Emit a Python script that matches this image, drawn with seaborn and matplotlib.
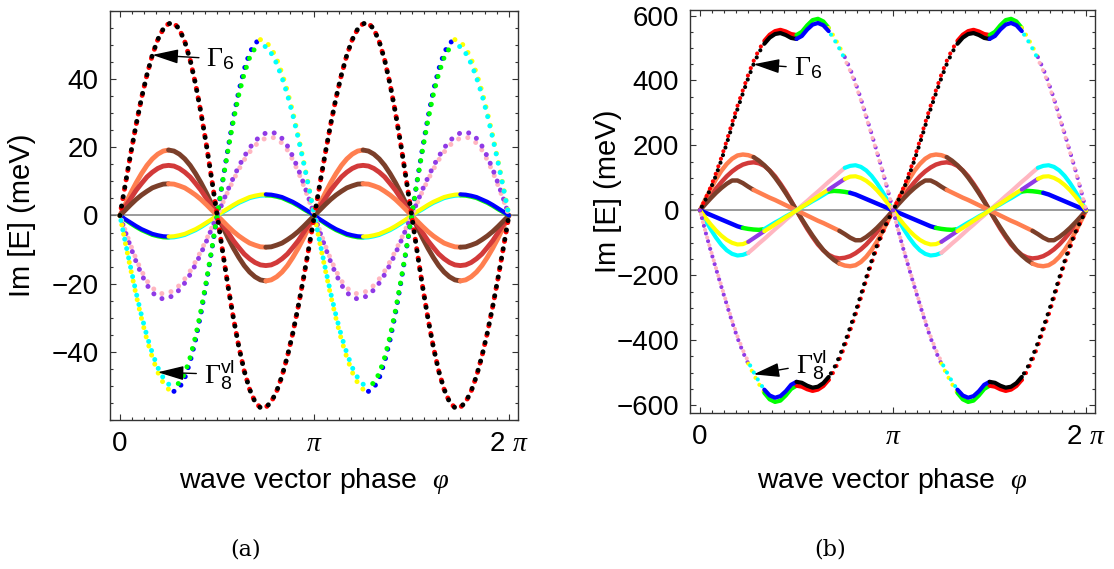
import numpy as np
import matplotlib
matplotlib.use("Agg")
import matplotlib.pyplot as plt
from matplotlib.ticker import MultipleLocator, FixedLocator
import seaborn as sns

# phase grid of one period in degrees (the bands repeat with period pi)
phase_deg = np.arange(0, 181, 5)

# === panel (a): Im[E] in meV, one period ===
a_gamma6 = [0, 9.2, 18.2, 26.7, 34.5, 41.3, 47.1, 51.6, 54.7, 56.3, 56.4, 54.7, 51.0, 45.6, 38.5, 30.1, 20.7, 10.5, 0,
            -10.5, -20.7, -30.1, -38.5, -45.6, -51.0, -54.7, -56.4, -56.3, -54.7, -51.6, -47.1, -41.3, -34.5, -26.7, -18.2, -9.2, 0]
a_gamma8_out = [0, -8.1, -15.9, -23.4, -30.3, -36.5, -41.7, -46.0, -49.1, -51.0, -51.6, -50.6, -47.7, -42.9, -36.5, -28.7, -19.7, -10.1, 0,
                10.1, 19.7, 28.7, 36.5, 42.9, 47.7, 50.6, 51.6, 51.0, 49.1, 46.0, 41.7, 36.5, 30.3, 23.4, 15.9, 8.1, 0]
a_gamma8_in = [0, -7.9, -15.4, -22.7, -29.4, -35.4, -40.4, -44.6, -47.6, -49.5, -50.1, -49.1, -46.3, -41.6, -35.4, -27.8, -19.1, -9.8, 0,
               9.8, 19.1, 27.8, 35.4, 41.6, 46.3, 49.1, 50.1, 49.5, 47.6, 44.6, 40.4, 35.4, 29.4, 22.7, 15.4, 7.9, 0]
a_purple = [0, -4.8, -9.4, -13.6, -17.3, -20.4, -22.6, -24.0, -24.5, -24.2, -23.3, -21.8, -19.8, -17.3, -14.4, -11.1, -7.6, -3.8, 0,
            3.8, 7.6, 11.1, 14.4, 17.3, 19.8, 21.8, 23.3, 24.2, 24.5, 24.0, 22.6, 20.4, 17.3, 13.6, 9.4, 4.8, 0]
a_pink = [0, -4.5, -8.8, -12.8, -16.3, -19.2, -21.2, -22.6, -23.0, -22.7, -21.9, -20.5, -18.6, -16.3, -13.5, -10.4, -7.1, -3.6, 0,
          3.6, 7.1, 10.4, 13.5, 16.3, 18.6, 20.5, 21.9, 22.7, 23.0, 22.6, 21.2, 19.2, 16.3, 12.8, 8.8, 4.5, 0]
a_wide = [0, 3.3, 6.6, 9.6, 12.3, 14.7, 16.6, 18.0, 18.9, 19.2, 18.9, 18.0, 16.6, 14.7, 12.3, 9.6, 6.6, 3.3, 0,
          -3.3, -6.6, -9.6, -12.3, -14.7, -16.6, -18.0, -18.9, -19.2, -18.9, -18.0, -16.6, -14.7, -12.3, -9.6, -6.6, -3.3, 0]
a_mid = [0, 2.6, 5.0, 7.4, 9.4, 11.3, 12.7, 13.8, 14.5, 14.7, 14.5, 13.8, 12.7, 11.3, 9.4, 7.4, 5.0, 2.6, 0,
         -2.6, -5.0, -7.4, -9.4, -11.3, -12.7, -13.8, -14.5, -14.7, -14.5, -13.8, -12.7, -11.3, -9.4, -7.4, -5.0, -2.6, 0]
a_narrow = [0, 1.6, 3.2, 4.7, 6.0, 7.1, 8.1, 8.7, 9.2, 9.3, 9.2, 8.7, 8.1, 7.1, 6.0, 4.7, 3.2, 1.6, 0,
            -1.6, -3.2, -4.7, -6.0, -7.1, -8.1, -8.7, -9.2, -9.3, -9.2, -8.7, -8.1, -7.1, -6.0, -4.7, -3.2, -1.6, 0]
a_small1 = [0, -1.1, -2.1, -3.1, -4.0, -4.7, -5.4, -5.8, -6.1, -6.2, -6.1, -5.8, -5.4, -4.7, -4.0, -3.1, -2.1, -1.1, 0,
            1.1, 2.1, 3.1, 4.0, 4.7, 5.4, 5.8, 6.1, 6.2, 6.1, 5.8, 5.4, 4.7, 4.0, 3.1, 2.1, 1.1, 0]
a_small2 = [0, -1.3, -2.4, -3.4, -4.3, -5.0, -5.7, -6.1, -6.4, -6.5, -6.4, -6.1, -5.7, -5.0, -4.3, -3.4, -2.4, -1.3, 0,
            0.9, 1.8, 2.8, 3.7, 4.4, 5.1, 5.5, 5.8, 5.9, 5.8, 5.5, 5.1, 4.4, 3.7, 2.8, 1.8, 0.9, 0]

# === panel (b): Im[E] in meV, one period ===
b_up_out = [0, 35, 72, 115, 163, 215, 270, 322, 370, 418, 460, 495, 522, 541, 552, 556, 551, 543, 540,
            550, 570, 586, 590, 582, 562, 535, 505, 472, 436, 393, 344, 290, 236, 180, 124, 64, 0]
b_up_in = [0, 32, 67, 108, 155, 206, 260, 312, 360, 407, 450, 486, 513, 532, 543, 546, 540, 531, 528,
           537, 557, 572, 577, 570, 552, 527, 498, 466, 430, 388, 340, 287, 233, 178, 122, 63, 0]
b_low_out = [0, -64, -124, -180, -236, -290, -344, -393, -436, -472, -505, -535, -562, -582, -590, -586, -570, -550, -540,
             -543, -551, -556, -552, -541, -522, -495, -460, -418, -370, -322, -270, -215, -163, -115, -72, -35, 0]
b_low_in = [0, -63, -122, -178, -233, -287, -340, -388, -430, -466, -498, -527, -552, -570, -577, -572, -557, -537, -528,
            -531, -540, -546, -543, -532, -513, -486, -450, -407, -360, -312, -260, -206, -155, -108, -67, -32, 0]
b_big = [0, 34, 66, 96, 122, 143, 159, 169, 172, 170, 164, 153, 139, 122, 101, 78, 53, 27, 0,
         -27, -53, -78, -101, -122, -139, -153, -164, -170, -172, -169, -159, -143, -122, -96, -66, -34, 0]
b_red = [0, 23, 46, 67, 87, 105, 120, 132, 141, 146, 148, 145, 137, 123, 105, 82, 57, 29, 0,
         -29, -57, -82, -105, -123, -137, -145, -148, -146, -141, -132, -120, -105, -87, -67, -46, -23, 0]
b_small = [0, 19, 37, 54, 69, 82, 92, 92, 84, 73, 63, 55, 47, 39, 32, 24, 16, 8, 0,
           -8, -16, -24, -32, -39, -47, -55, -63, -73, -84, -92, -92, -82, -69, -54, -37, -19, 0]
b_blue = [0, -7, -14, -21, -28, -35, -42, -49, -54, -57, -59, -60, -58, -48, -38, -29, -19, -10, 0,
          10, 19, 29, 38, 48, 58, 60, 59, 57, 54, 49, 42, 35, 28, 21, 14, 7, 0]
b_yellow = [0, -22, -43, -62, -78, -91, -100, -105, -104, -97, -86, -75, -64, -54, -43, -32, -21, -11, 0,
            11, 21, 32, 43, 54, 64, 75, 86, 97, 104, 105, 100, 91, 78, 62, 43, 22, 0]
b_cyan = [0, -30, -58, -84, -106, -123, -134, -139, -137, -131, -117, -102, -88, -73, -58, -44, -29, -15, 0,
          15, 29, 44, 58, 73, 88, 102, 117, 131, 137, 139, 134, 123, 106, 84, 58, 30, 0]

col = dict(k="#000000", r="#ff0000", b="#0000ff", g="#00ff00", y="#ffff00", c="#00ffff",
           pu="#8f3ae6", pk="#ffb6c1", o="#ff7f50", br="#7b3f2a", fr="#d23a3a")

sns.set_style("ticks")
plt.rcParams["font.family"] = ["Liberation Sans", "DejaVu Sans"]
plt.rcParams["mathtext.fontset"] = "custom"
plt.rcParams["mathtext.rm"] = "Liberation Serif"
plt.rcParams["mathtext.it"] = "Liberation Serif:italic"
plt.rcParams["mathtext.sf"] = "Liberation Sans"
for key in ("text.color", "axes.labelcolor", "xtick.labelcolor", "ytick.labelcolor"):
    plt.rcParams[key] = "black"

deg = np.concatenate([phase_deg, phase_deg[1:] + 180])
phi = np.deg2rad(deg)


def draw(ax, vals, segs, lw, offset=0.0, gap=1.9, z=2):
    # two identical periods, each split into coloured pieces
    y = np.concatenate([vals, vals[1:]])
    for k in (0, 180):
        for a, b, c, st in segs:
            m = (deg >= a + k) & (deg <= b + k)
            ls = (offset, (0.01, gap)) if st == ":" else "-"
            sns.lineplot(x=phi[m], y=y[m], ax=ax, color=col[c], linewidth=lw, linestyle=ls,
                         dash_capstyle="round", solid_capstyle="round", sort=False,
                         estimator=None, legend=False, zorder=z)


def full(c, st=":"):
    return [(0, 180, c, st)]


def frame(ax, ylim, yticks, minor, ylab_x, ylab_y, xlab_y):
    ax.axhline(0, color="#808080", lw=1.1, zorder=1)
    ax.set_xlim(-0.1615, 6.428)
    ax.set_ylim(*ylim)
    ax.xaxis.set_major_locator(FixedLocator([0, np.pi, 2 * np.pi]))
    ax.set_xticklabels(["0", r"$\pi$", r"2 $\pi$"])
    ax.xaxis.set_minor_locator(MultipleLocator(np.pi / 16))
    ax.yaxis.set_major_locator(FixedLocator(yticks))
    ax.yaxis.set_minor_locator(MultipleLocator(minor))
    ax.tick_params(which="both", direction="in", top=True, right=True, width=0.8, color="#333333")
    ax.tick_params(which="major", length=4.5, labelsize=20, pad=8, labelcolor="black")
    ax.tick_params(which="minor", length=2.5)
    for s in ax.spines.values():
        s.set_linewidth(1.0)
        s.set_color("#333333")
    ax.set_xlabel(r"wave vector phase  $\varphi$", fontsize=20.5, color="black")
    ax.set_ylabel("Im [E] (meV)", fontsize=21, color="black")
    ax.xaxis.set_label_coords(0.5, xlab_y)
    ax.yaxis.set_label_coords(ylab_x, ylab_y)


fig = plt.figure(figsize=(11.14, 5.69), dpi=100)
ax_a = fig.add_axes([0.0987, 0.2619, 0.3662, 0.7188])
ax_b = fig.add_axes([0.6194, 0.2736, 0.3636, 0.7088])

# --- (a) solid bands ---
draw(ax_a, a_wide, [(0, 45, "o", "-"), (45, 135, "br", "-"), (135, 180, "o", "-")], 3.5)
draw(ax_a, a_mid, full("fr", "-"), 3.5)
draw(ax_a, a_narrow, [(0, 45, "br", "-"), (45, 135, "o", "-"), (135, 180, "br", "-")], 3.5)
draw(ax_a, a_small2, [(0, 45, "g", "-"), (45, 135, "c", "-"), (135, 180, "g", "-")], 3.0)
draw(ax_a, a_small1, [(0, 45, "b", "-"), (45, 135, "y", "-"), (135, 180, "b", "-")], 3.0)
# --- (a) dotted bands ---
draw(ax_a, a_pink, full("pk"), 3.6, offset=0.9, z=3)
draw(ax_a, a_purple, full("pu"), 3.6, z=3)
draw(ax_a, a_gamma8_out, [(0, 50, "y", ":"), (50, 130, "b", ":"), (130, 180, "y", ":")], 3.6, z=3)
draw(ax_a, a_gamma8_in, [(0, 50, "c", ":"), (50, 130, "g", ":"), (130, 180, "c", ":")], 3.6, offset=0.9, z=3)
draw(ax_a, a_gamma6, full("r"), 3.6, offset=0.4, z=3)
draw(ax_a, a_gamma6, full("k"), 3.6, z=3)

frame(ax_a, (-60, 60), [-40, -20, 0, 20, 40], 5, -0.181, 0.501, -0.112)

arrow = dict(arrowstyle="-|>,head_length=0.8,head_width=0.22", color="k", lw=1.0,
             shrinkA=3, shrinkB=0, mutation_scale=20)
ax_a.annotate(r"$\Gamma_{\mathsf{6}}$", xy=(phi[6], a_gamma6[6]), xytext=(54, -4),
              textcoords="offset pixels", ha="left", va="center", fontsize=20, arrowprops=arrow)
ax_a.annotate(r"$\Gamma_{\mathsf{8}}^{\mathsf{vl}}$", xy=(phi[7], a_gamma8_out[7]), xytext=(46, -2),
              textcoords="offset pixels", ha="left", va="center", fontsize=20, arrowprops=arrow)

# --- (b) solid bands ---
draw(ax_b, b_red, full("fr", "-"), 3.2)
draw(ax_b, b_big, [(0, 50, "o", "-"), (50, 130, "br", "-"), (130, 180, "o", "-")], 3.2)
draw(ax_b, b_small, [(0, 50, "br", "-"), (50, 130, "o", "-"), (130, 180, "br", "-")], 3.2)
draw(ax_b, b_cyan, [(0, 45, "c", "-"), (45, 135, "pk", "-"), (135, 180, "c", "-")], 3.0)
draw(ax_b, b_blue, [(0, 40, "b", "-"), (40, 60, "g", "-"), (60, 120, "c", "-"), (120, 140, "g", "-"),
                    (140, 180, "b", "-")], 3.2)
draw(ax_b, b_yellow, [(0, 45, "y", "-"), (45, 60, "pu", "-"), (60, 120, "y", "-"), (120, 135, "pu", "-"),
                      (135, 180, "y", "-")], 3.0)
# --- (b) dotted envelopes ---
draw(ax_b, b_up_out, [(0, 60, "r", ":"), (60, 90, "r", "-"), (90, 120, "g", "-"), (120, 135, "y", ":"),
                      (135, 180, "pu", ":")], 3.0, z=3)
draw(ax_b, b_up_in, [(0, 60, "k", ":"), (60, 90, "k", "-"), (90, 120, "b", "-"), (120, 135, "c", ":"),
                     (135, 180, "pk", ":")], 3.0, offset=0.9, z=3)
draw(ax_b, b_low_out, [(0, 45, "pu", ":"), (45, 60, "y", ":"), (60, 90, "g", "-"), (90, 120, "r", "-"),
                       (120, 180, "r", ":")], 3.0, z=3)
draw(ax_b, b_low_in, [(0, 45, "pk", ":"), (45, 60, "c", ":"), (60, 90, "b", "-"), (90, 120, "k", "-"),
                      (120, 180, "k", ":")], 3.0, offset=0.9, z=3)

frame(ax_b, (-625, 617), [-600, -400, -200, 0, 200, 400, 600], 50, -0.168, 0.551, -0.13)

ax_b.annotate(r"$\Gamma_{\mathsf{6}}$", xy=(phi[10], b_up_in[10]), xytext=(40, -4),
              textcoords="offset pixels", ha="left", va="center", fontsize=20, arrowprops=arrow)
ax_b.annotate(r"$\Gamma_{\mathsf{8}}^{\mathsf{vl}}$", xy=(phi[10], b_low_out[10]), xytext=(42, 10),
              textcoords="offset pixels", ha="left", va="center", fontsize=20, arrowprops=arrow)

fig.text(0.22, 0.034, "(a)", family="DejaVu Serif", fontsize=16, ha="center", va="center")
fig.text(0.745, 0.034, "(b)", family="DejaVu Serif", fontsize=16, ha="center", va="center")

fig.savefig("out.png", dpi=100)
